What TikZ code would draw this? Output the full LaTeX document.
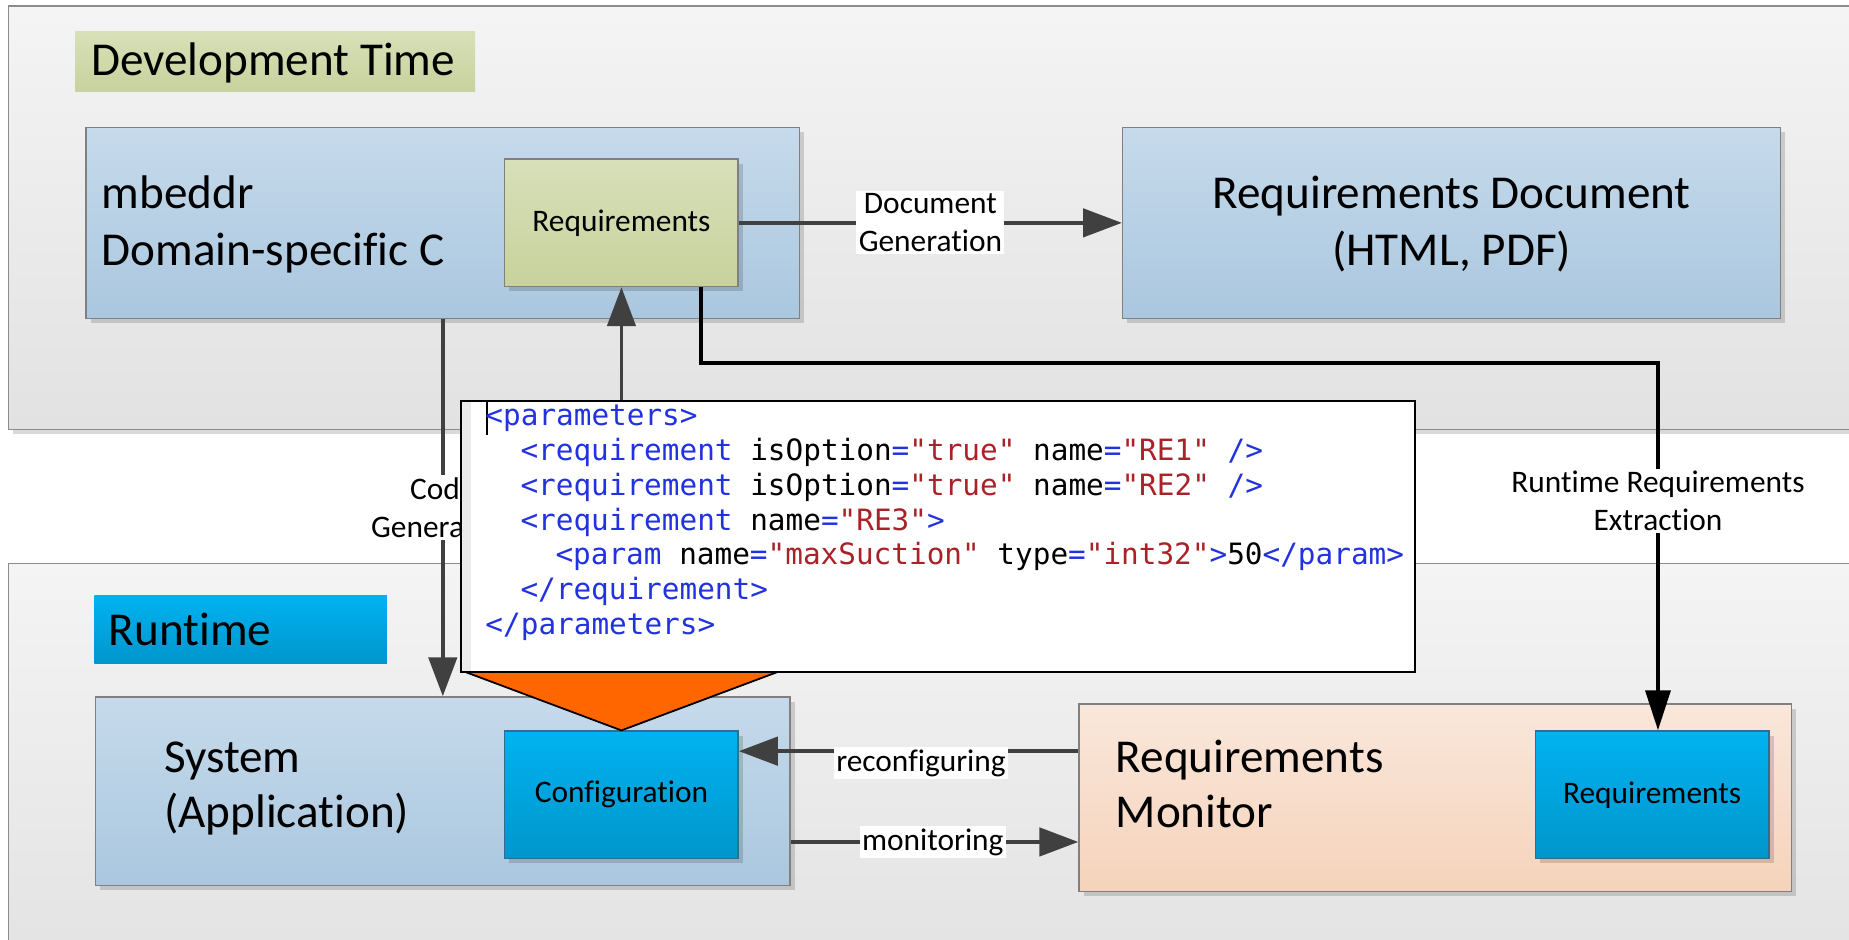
\documentclass[tikz,border=0pt]{standalone}
\usepackage{fontspec}
\setmainfont{Carlito}[Ligatures={TeX,NoCommon}]
\newfontfamily\codefont{DejaVu Sans Mono}[Ligatures=TeXOff]
\usetikzlibrary{arrows.meta}
\definecolor{xblue}{HTML}{2232E0}
\definecolor{xred}{HTML}{A82228}
\definecolor{lncol}{HTML}{404040}
\definecolor{pantop}{HTML}{F4F4F4}
\definecolor{panbot}{HTML}{E2E2E2}
\definecolor{bluetop}{HTML}{C6DAEB}
\definecolor{bluebot}{HTML}{AAC7DF}
\definecolor{greentop}{HTML}{D7E0B8}
\definecolor{greenbot}{HTML}{C7D29D}
\definecolor{cyantop}{HTML}{00B2F0}
\definecolor{cyanbot}{HTML}{0096CC}
\definecolor{cyanedge}{HTML}{2F6E8E}
\definecolor{peachtop}{HTML}{FAE7DB}
\definecolor{peachbot}{HTML}{F5D3BB}
\definecolor{orangefill}{HTML}{FF6600}
\newcommand{\tagc}[1]{\textcolor{xblue}{#1}}
\newcommand{\valc}[1]{\textcolor{xred}{#1}}
\newcommand{\bigf}{\fontsize{40}{48}\selectfont}
\newcommand{\smallf}{\fontsize{26.6}{32}\selectfont}
\newcommand{\codef}{\codefont\fontsize{24.9}{29.5}\selectfont}
\tikzset{
  shad/.style={preaction={fill=black,opacity=0.15,transform canvas={shift={(4pt,-4pt)}}}},
  panel/.style={shad,draw=black!45,line width=1.2pt,top color=pantop,bottom color=panbot},
  box/.style={shad,line width=1.2pt,inner sep=0pt,font=\smallf,align=center},
  bluebox/.style={box,draw=black!50,top color=bluetop,bottom color=bluebot},
  greenbox/.style={box,draw=black!50,top color=greentop,bottom color=greenbot},
  cyanbox/.style={box,draw=cyanedge,top color=cyantop,bottom color=cyanbot},
  peachbox/.style={box,draw=black!50,top color=peachtop,bottom color=peachbot},
  bigtext/.style={inner sep=0pt,font=\bigf,anchor=base west},
  codeline/.style={inner sep=0pt,font=\codef,anchor=base west},
  conn/.style={draw=lncol,line width=3.2pt,-{Triangle[length=33pt,width=24pt]}},
  extr/.style={draw=black,line width=3.6pt,-{Triangle[length=34pt,width=21pt]}},
  lab/.style={fill=white,inner sep=2pt,font=\smallf,align=center},
}
\begin{document}
\begin{tikzpicture}[x=1pt,y=-1pt]
\useasboundingbox (0,0) rectangle (1568,797);
\clip (0,0) rectangle (1568,797);
\fill[white] (0,0) rectangle (1568,797);
% panels
\path[panel] (7,5) rectangle (1600,364);
\path[panel] (7,478) rectangle (1600,830);
% section labels
\node[inner sep=0pt,minimum width=339pt,minimum height=51pt,top color=greentop,bottom color=greenbot] (devlab) at (233.5,52.5) {};
\node[bigtext] (devtxt) at (77,64) {Development Time};
\node[inner sep=0pt,minimum width=248pt,minimum height=58pt,top color=cyantop,bottom color=cyanbot] (rtlab) at (204,534) {};
\node[bigtext] (rttxt) at (92,547) {Runtime};
% development boxes
\node[bluebox,minimum width=605pt,minimum height=162pt] (mbeddr) at (375.5,189) {};
\node[bigtext] (mb1) at (86,177) {mbeddr};
\node[bigtext] (mb2) at (86,225) {Domain-specific C};
\node[greenbox,minimum width=198pt,minimum height=108pt] (req) at (527,189) {Requirements};
\node[bluebox,minimum width=558pt,minimum height=162pt] (reqdoc) at (1231,189) {};
\node[bigtext,anchor=base] (rd1) at (1231,177) {Requirements Document};
\node[bigtext,anchor=base] (rd2) at (1231,225) {(HTML, PDF)};
% runtime boxes
\node[bluebox,minimum width=589pt,minimum height=160pt] (system) at (375.5,671) {};
\node[bigtext] (sys1) at (139,655) {System};
\node[bigtext] (sys2) at (139,702) {(Application)};
\node[cyanbox,minimum width=198pt,minimum height=108pt] (config) at (527,674) {Configuration};
\node[peachbox,minimum width=604pt,minimum height=159pt] (rm) at (1217,676.5) {};
\node[bigtext] (rm1) at (946,655) {Requirements};
\node[bigtext] (rm2) at (946,702) {Monitor};
\node[cyanbox,minimum width=198pt,minimum height=108pt] (reqrt) at (1401,674) {Requirements};
% connectors
\draw[conn] (req.east) -- (reqdoc.west) node[lab,midway] (dglab) {Document\\Generation};
\draw[conn] (mbeddr.south) -- (system.north) node[lab,midway] (cglab) {Code\\Generation};
\coordinate (bend) at (1406,308);
\draw[extr] ([xshift=-32pt]req.south east) |- (bend) -- (bend |- reqrt.north);
\node[lab] (exlab) at (1406,425) {Runtime Requirements\\Extraction};
\coordinate (rc) at (0,637);
\draw[conn] (rm.west |- rc) -- (config.east |- rc);
\node[lab] (rclab) at (781,647) {reconfiguring};
\coordinate (mc) at (0,714);
\draw[conn] (system.east |- mc) -- (rm.west |- mc);
\node[lab] (mclab) at (791,714) {monitoring};
% orange callout
\fill[orangefill] (395,570) -- (659,570) -- (config.north) -- cycle;
\draw[black,line width=1.5pt] (395,570) -- (config.north) -- (659,570);
% code box
\node[draw=black,line width=2pt,fill=white,minimum width=809pt,minimum height=230pt,inner sep=0pt] (code) at (795.5,455) {};
\fill[black!8] (392,341) rectangle (399,569);
\draw[black,line width=1.5pt] (413,341) -- (413,369);
\node[codeline] (c1) at (411.5,361) {\tagc{<parameters>}};
\node[codeline] (c2) at (441.2,390.5) {\tagc{<requirement} isOption\tagc{=}\valc{"true"} name\tagc{=}\valc{"RE1"} \tagc{/>}};
\node[codeline] (c3) at (441.2,420) {\tagc{<requirement} isOption\tagc{=}\valc{"true"} name\tagc{=}\valc{"RE2"} \tagc{/>}};
\node[codeline] (c4) at (441.2,449.5) {\tagc{<requirement} name\tagc{=}\valc{"RE3"}\tagc{>}};
\node[codeline] (c5) at (470.9,479) {\tagc{<param} name\tagc{=}\valc{"maxSuction"} type\tagc{=}\valc{"int32"}\tagc{>}50\tagc{</param>}};
\node[codeline] (c6) at (441.2,508.5) {\tagc{</requirement>}};
\node[codeline] (c7) at (411.5,538) {\tagc{</parameters>}};
\draw[conn] (req.south |- code.north) -- (req.south);
\end{tikzpicture}
\end{document}
